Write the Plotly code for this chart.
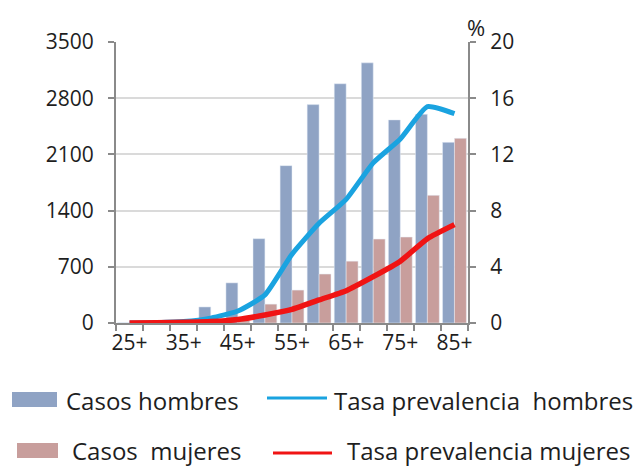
import plotly.graph_objects as go

# Age groups and values
categories = ["25+", "30+", "35+", "40+", "45+", "50+", "55+",
              "60+", "65+", "70+", "75+", "80+", "85+"]
tick_labels = ["25+", "", "35+", "", "45+", "", "55+",
               "", "65+", "", "75+", "", "85+"]
casos_hombres = [3, 8, 25, 200, 500, 1050, 1960, 2720, 2980, 3240, 2530, 2600, 2250]
casos_mujeres = [0, 2, 5, 15, 55, 235, 410, 610, 770, 1045, 1070, 1590, 2300]
tasa_hombres = [0.0, 0.02, 0.1, 0.35, 0.85, 2.0, 4.9, 7.1, 8.8, 11.4, 13.1, 15.4, 14.9]
tasa_mujeres = [0.0, 0.02, 0.05, 0.1, 0.25, 0.57, 0.97, 1.64, 2.3, 3.3, 4.4, 6.0, 7.0]

names = ["Casos hombres", "Casos\u00a0 mujeres",
         "Tasa prevalencia\u00a0 hombres", "Tasa prevalencia mujeres"]

C_BAR_H = "#8FA3C4"
C_BAR_M = "#C89E9C"
C_LINE_H = "#1AA3E0"
C_LINE_M = "#F01414"
TXT = "#1E1E1E"
AXIS = "#8A8A8A"
FONT = "Open Sans"

W, H = 644, 469
L, R, T, B = 116, 468, 42, 323  # plot area in pixels


def px(x):
    return (x - L) / (R - L)


def py(y):
    return (B - y) / (B - T)


fig = go.Figure()
fig.add_bar(x=categories, y=casos_hombres, name=names[0],
            marker_color=C_BAR_H, showlegend=False)
fig.add_bar(x=categories, y=casos_mujeres, name=names[1],
            marker_color=C_BAR_M, showlegend=False)
fig.add_scatter(x=categories, y=tasa_hombres, name=names[2], yaxis="y2",
                mode="lines", line=dict(color=C_LINE_H, width=5,
                                        shape="spline", smoothing=0.5),
                showlegend=False)
fig.add_scatter(x=categories, y=tasa_mujeres, name=names[3], yaxis="y2",
                mode="lines", line=dict(color=C_LINE_M, width=5.5,
                                        shape="spline", smoothing=0.5),
                showlegend=False)

# Legend drawn below the plot: swatches, line samples and labels
shapes = [
    dict(type="rect", xref="paper", yref="paper",
         x0=px(12), x1=px(57), y0=py(407), y1=py(392),
         fillcolor=C_BAR_H, line_width=0),
    dict(type="rect", xref="paper", yref="paper",
         x0=px(17), x1=px(58), y0=py(458), y1=py(443),
         fillcolor=C_BAR_M, line_width=0),
    dict(type="line", xref="paper", yref="paper",
         x0=px(267), x1=px(327), y0=py(398), y1=py(398),
         line=dict(color=C_LINE_H, width=3)),
    dict(type="line", xref="paper", yref="paper",
         x0=px(273), x1=px(332), y0=py(453), y1=py(453),
         line=dict(color=C_LINE_M, width=3)),
]
legend_font = dict(family=FONT, size=24, color=TXT)
annotations = [
    dict(text=names[0], x=px(65), y=py(400)),
    dict(text=names[2], x=px(333), y=py(400)),
    dict(text=names[1], x=px(71), y=py(451)),
    dict(text=names[3], x=px(346), y=py(451)),
]
for a in annotations:
    a.update(xref="paper", yref="paper", xanchor="left", yanchor="middle",
             showarrow=False, font=legend_font, borderpad=0)
annotations.append(dict(text="%", x=px(476), y=py(27), xref="paper",
                        yref="paper", xanchor="center", yanchor="middle",
                        showarrow=False,
                        font=dict(family=FONT, size=22, color=TXT)))

fig.update_layout(
    width=W, height=H,
    margin=dict(l=L, r=W - R, t=T, b=H - B, pad=0),
    paper_bgcolor="white", plot_bgcolor="white",
    barmode="group", bargap=0.12, bargroupgap=0,
    font=dict(family=FONT, color=TXT),
    shapes=shapes, annotations=annotations,
    xaxis=dict(
        type="category", categoryarray=categories,
        range=[-0.5, len(categories) - 0.5],
        tickmode="array", tickvals=categories, ticktext=tick_labels,
        tickson="boundaries", ticks="outside", ticklen=6, tickangle=0,
        tickcolor=AXIS, tickwidth=1.5,
        showline=True, linecolor=AXIS, linewidth=2,
        showgrid=False, tickfont=dict(size=21, color=TXT),
    ),
    yaxis=dict(
        range=[0, 3500], tickvals=[0, 700, 1400, 2100, 2800, 3500],
        ticks="outside", ticklen=6, tickcolor=AXIS, tickwidth=1.5,
        showline=True, linecolor=AXIS, linewidth=2,
        showgrid=True, gridcolor="#DADADA", gridwidth=1.5,
        zeroline=False, tickfont=dict(size=21, color=TXT),
        ticklabelstandoff=10,
    ),
    yaxis2=dict(
        range=[0, 20], tickvals=[0, 4, 8, 12, 16, 20],
        overlaying="y", side="right",
        ticks="outside", ticklen=6, tickcolor=AXIS, tickwidth=1.5,
        showline=True, linecolor=AXIS, linewidth=2,
        showgrid=False, zeroline=False, tickfont=dict(size=21, color=TXT),
        ticklabelstandoff=10,
    ),
)

fig.write_html("out.html")
